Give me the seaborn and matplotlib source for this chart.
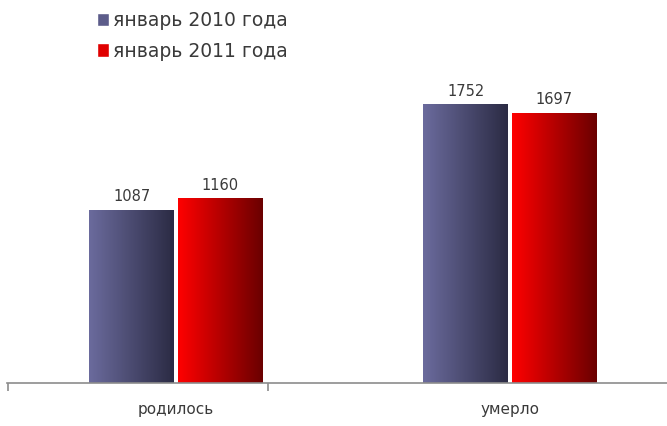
import matplotlib
matplotlib.use("Agg")
import matplotlib.pyplot as plt
import numpy as np
import pandas as pd
import seaborn as sns
from matplotlib.colors import LinearSegmentedColormap
from matplotlib.patches import Patch

categories = ["родилось", "умерло"]
series = ["январь 2010 года", "январь 2011 года"]
values_2010 = [1087, 1752]
values_2011 = [1160, 1697]

df = pd.DataFrame({
    "category": categories * 2,
    "series": [series[0]] * 2 + [series[1]] * 2,
    "value": values_2010 + values_2011,
})

sns.set_theme(style="white")
plt.rcParams["font.family"] = ["DejaVu Sans"]
text_color = "#3a3a3a"

fig = plt.figure(figsize=(6.67, 4.26), dpi=100)
ax = fig.add_axes([7 / 667, 43 / 426, 1 - 7 / 667, 383 / 426])

sns.barplot(data=df, x="category", y="value", hue="series", width=0.53,
            gap=0.04, palette=["#5c5c8a", "#e00000"], ax=ax, legend=False)

# horizontal gradients on bars
cmaps = {
    series[0]: LinearSegmentedColormap.from_list("b", ["#6b6b9d", "#2b2b44"]),
    series[1]: LinearSegmentedColormap.from_list("r", ["#ff0000", "#6a0000"]),
}
grad = np.linspace(0, 1, 256).reshape(1, -1)
for cont, s in zip(ax.containers, series):
    for p in cont:
        x0, y0 = p.get_x(), p.get_y()
        w, h = p.get_width(), p.get_height()
        im = ax.imshow(grad, cmap=cmaps[s], aspect="auto",
                       extent=[x0, x0 + w, y0, y0 + h], zorder=1.5)
        im.set_clip_path(p)
        p.set_facecolor("none")
        p.set_edgecolor("none")
    ax.bar_label(cont, padding=4, fontsize=10.5, color=text_color)

ax.set_xlim(-0.506, 1.47)
ax.set_ylim(0, 2406)
ax.set_xlabel("")
ax.set_ylabel("")
ax.set_yticks([])
for side in ["left", "top", "right"]:
    ax.spines[side].set_visible(False)
ax.spines["bottom"].set_color("#8c8c8c")
ax.spines["bottom"].set_linewidth(1.2)

ax.tick_params(axis="x", which="major", length=0, pad=14,
               labelsize=11, labelcolor=text_color)
ax.set_xticks([-0.503, 0.275], minor=True)
ax.tick_params(axis="x", which="minor", length=6, width=1.2,
               color="#8c8c8c", bottom=True, direction="out")

handles = [Patch(facecolor="#5c5c8a"), Patch(facecolor="#e00000")]
leg = fig.legend(handles, series, loc="upper left",
                 bbox_to_anchor=(84 / 667, 1 + 2 / 426), frameon=False,
                 fontsize=13.5, handlelength=0.62, handleheight=0.75,
                 handletextpad=0.25, labelspacing=0.62, borderpad=0.2)
for t in leg.get_texts():
    t.set_color(text_color)

fig.savefig("out.png", dpi=100)
